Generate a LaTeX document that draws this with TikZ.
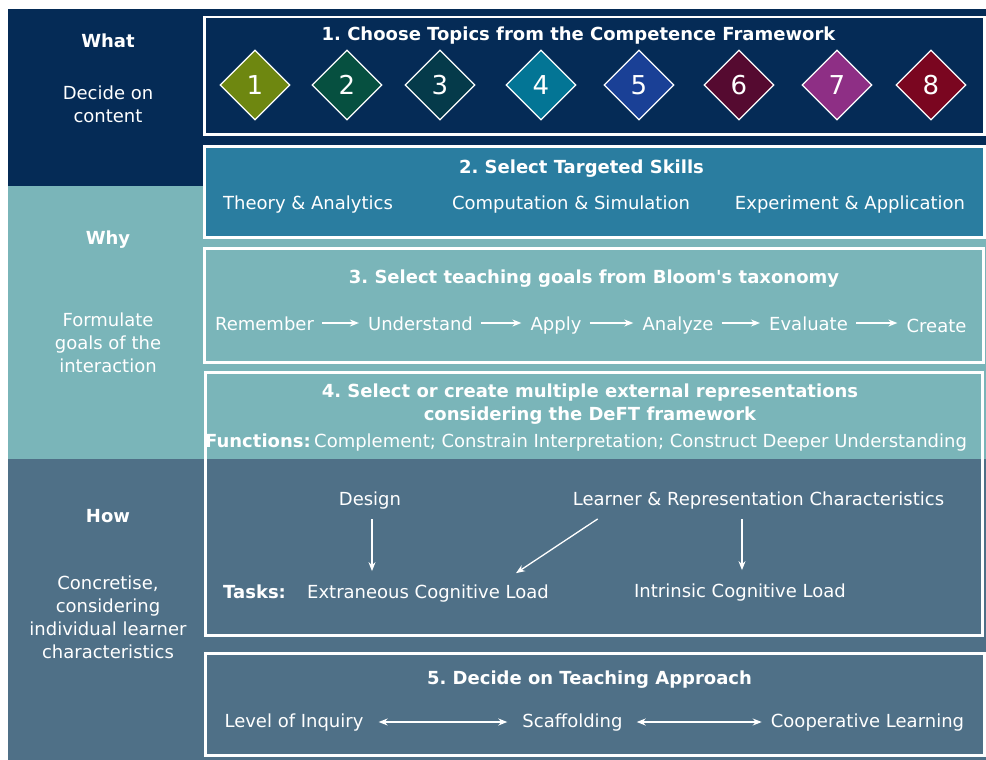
\documentclass[tikz,border=0pt]{standalone}
\usepackage{fontspec}
\setmainfont{DejaVu Sans}
\usetikzlibrary{shapes.geometric,arrows.meta,calc}
\definecolor{navy}{RGB}{5,43,86}
\definecolor{teal}{RGB}{122,181,185}
\definecolor{slate}{RGB}{79,112,135}
\definecolor{skillblue}{RGB}{42,125,160}
\definecolor{dOne}{RGB}{110,135,16}
\definecolor{dTwo}{RGB}{6,80,64}
\definecolor{dThree}{RGB}{5,58,74}
\definecolor{dFour}{RGB}{3,117,149}
\definecolor{dFive}{RGB}{26,64,150}
\definecolor{dSix}{RGB}{85,10,48}
\definecolor{dSeven}{RGB}{142,47,133}
\definecolor{dEight}{RGB}{122,6,32}
\frenchspacing
\begin{document}
\begin{tikzpicture}[x=1pt,y=-1pt,
  txt/.style={text=white, inner sep=0pt, font=\fontsize{18}{23}\selectfont, anchor=base},
  ttl/.style={txt, font=\bfseries\fontsize{18}{23}\selectfont},
  frame/.style={draw=white, line width=2.5pt, anchor=north west, inner sep=0pt},
  arr/.style={draw=white, line width=1.3pt, -{Stealth[length=9pt,width=7pt]}},
  darr/.style={draw=white, line width=1.3pt, {Stealth[length=9pt,width=7pt]}-{Stealth[length=9pt,width=7pt]}},
  dia/.style={diamond, draw=white, line width=1.2pt, minimum width=70pt, minimum height=70pt, inner sep=0pt, text=white, font=\fontsize{26}{30}\selectfont}
]
\useasboundingbox (0,0) rectangle (986,760);
% bands
\fill[navy] (8,9) rectangle (986,186);
\fill[teal] (8,186) rectangle (986,459);
\fill[slate] (8,459) rectangle (986,760);
% left column (base = last line)
\node[ttl] (what) at (108,48) {What};
\node[txt, align=center] (whatd) at (108,122) {Decide on\\content};
\node[ttl] (why) at (108,244) {Why};
\node[txt, align=center] (whyd) at (108,372) {Formulate\\goals of the\\interaction};
\node[ttl] (how) at (108,522) {How};
\node[txt, align=center] (howd) at (108,658) {Concretise,\\considering\\individual learner\\characteristics};
% boxes
\node[frame, minimum width=780pt, minimum height=117pt] (box1) at (203,16) {};
\node[frame, fill=skillblue, minimum width=780pt, minimum height=91pt] (box2) at (203,145) {};
\node[frame, minimum width=779pt, minimum height=114pt] (box3) at (203,247) {};
\node[frame, minimum width=777pt, minimum height=263pt] (box4) at (204,371) {};
\node[frame, minimum width=779pt, minimum height=102pt] (box5) at (204,652) {};
% box 1
\node[ttl] (t1) at (578.5,41) {1. Choose Topics from the Competence Framework};
\node[dia, fill=dOne] (d1) at (255,85) {1};
\node[dia, fill=dTwo] (d2) at (347,85) {2};
\node[dia, fill=dThree] (d3) at (440,85) {3};
\node[dia, fill=dFour] (d4) at (541,85) {4};
\node[dia, fill=dFive] (d5) at (639,85) {5};
\node[dia, fill=dSix] (d6) at (739,85) {6};
\node[dia, fill=dSeven] (d7) at (837,85) {7};
\node[dia, fill=dEight] (d8) at (931,85) {8};
% box 2
\node[ttl] (t2) at (581.5,173) {2. Select Targeted Skills};
\node[txt] (s1) at (308,209) {Theory \& Analytics};
\node[txt] (s2) at (571,209) {Computation \& Simulation};
\node[txt] (s3) at (850,209) {Experiment \& Application};
% box 3
\node[ttl] (t3) at (594,283) {3. Select teaching goals from Bloom\textquotesingle s taxonomy};
\node[txt] (rem) at (264.5,330) {Remember};
\node[txt] (und) at (420.5,330) {Understand};
\node[txt] (app) at (556,330) {Apply};
\node[txt] (ana) at (678,330) {Analyze};
\node[txt] (eva) at (808.5,330) {Evaluate};
\node[txt] (cre) at (936.5,332) {Create};
\foreach \a/\b in {rem/und,und/app,app/ana,ana/eva,eva/cre}
  \draw[arr, shorten <=8pt, shorten >=9pt] ([yshift=7pt]\a.base east) -- ([yshift=7pt]\a.base east -| \b.base west);
% box 4
\node[ttl, align=center] (t4) at (590,420) {4. Select or create multiple external representations\\considering the DeFT framework};
\node[ttl, anchor=base west] (fun) at (205,447) {Functions:};
\node[txt, anchor=base west] (funl) at (314,447) {Complement; Constrain Interpretation; Construct Deeper Understanding};
\node[txt] (design) at (370,505) {Design};
\node[txt] (learner) at (758.5,505) {Learner \& Representation Characteristics};
\node[ttl, anchor=base west] (tasks) at (223,598) {Tasks:};
\node[txt] (ext) at (428,598) {Extraneous Cognitive Load};
\node[txt] (int) at (740,597) {Intrinsic Cognitive Load};
\draw[arr, shorten <=10.5pt, shorten >=13pt] ([xshift=2pt]design.south) -- ([xshift=2pt]design.south |- ext.north);
\draw[arr, shorten <=10pt, shorten >=13pt] ([xshift=2pt]int.north |- learner.south) -- ([xshift=2pt]int.north);
\draw[arr] ([xshift=25pt,yshift=-10pt]learner.south west) -- ([xshift=-33pt,yshift=11pt]ext.north east);
% box 5
\node[ttl] (t5) at (589.5,684) {5. Decide on Teaching Approach};
\node[txt] (inq) at (294,727) {Level of Inquiry};
\node[txt] (sca) at (572.5,727) {Scaffolding};
\node[txt] (coop) at (867.5,727) {Cooperative Learning};
\draw[darr, shorten <=15pt, shorten >=15pt] ([yshift=5pt]inq.base east) -- ([yshift=5pt]inq.base east -| sca.base west);
\draw[darr, shorten <=14pt, shorten >=9pt] ([yshift=5pt]sca.base east) -- ([yshift=5pt]sca.base east -| coop.base west);
\end{tikzpicture}
\end{document}
